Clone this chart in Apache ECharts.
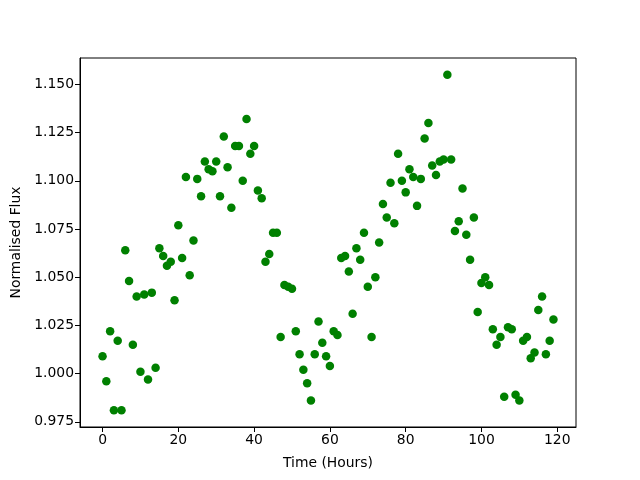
<!DOCTYPE html>
<html>
<head>
<meta charset="utf-8">
<script src="https://cdn.jsdelivr.net/npm/echarts@6/dist/echarts.min.js"></script>
<style>
  html, body { margin: 0; padding: 0; background: #fff; }
  #chart { width: 640px; height: 480px; }
</style>
</head>
<body>
<div id="chart"></div>
<script>
// hourly normalised flux (hour 0..119)
var hours = [];
for (var h = 0; h < 120; h++) hours.push(h);
var flux = [
  1.009, 0.996, 1.022, 0.981, 1.017, 0.981, 1.064, 1.048, 1.015, 1.040,
  1.001, 1.041, 0.997, 1.042, 1.003, 1.065, 1.061, 1.056, 1.058, 1.038,
  1.077, 1.060, 1.102, 1.051, 1.069, 1.101, 1.092, 1.110, 1.106, 1.105,
  1.110, 1.092, 1.123, 1.107, 1.086, 1.118, 1.118, 1.100, 1.132, 1.114,
  1.118, 1.095, 1.091, 1.058, 1.062, 1.073, 1.073, 1.019, 1.046, 1.045,
  1.044, 1.022, 1.010, 1.002, 0.995, 0.986, 1.010, 1.027, 1.016, 1.009,
  1.004, 1.022, 1.020, 1.060, 1.061, 1.053, 1.031, 1.065, 1.059, 1.073,
  1.045, 1.019, 1.050, 1.068, 1.088, 1.081, 1.099, 1.078, 1.114, 1.100,
  1.094, 1.106, 1.102, 1.087, 1.101, 1.122, 1.130, 1.108, 1.103, 1.110,
  1.111, 1.155, 1.111, 1.074, 1.079, 1.096, 1.072, 1.059, 1.081, 1.032,
  1.047, 1.050, 1.046, 1.023, 1.015, 1.019, 0.988, 1.024, 1.023, 0.989,
  0.986, 1.017, 1.019, 1.008, 1.011, 1.033, 1.040, 1.010, 1.017, 1.028
];
var xTicks = [0, 20, 40, 60, 80, 100, 120];
var yTicks = [0.975, 1.000, 1.025, 1.050, 1.075, 1.100, 1.125, 1.150];

var points = hours.map(function (h, i) { return [h, flux[i]]; });

// matplotlib style 5% margins
var xPad = (119 - 0) * 0.05;
var yMin = Math.min.apply(null, flux), yMax = Math.max.apply(null, flux);
var yPad = (yMax - yMin) * 0.05;

var font = 'DejaVu Sans';
var chart = echarts.init(document.getElementById('chart'), null, { renderer: 'canvas' });
chart.setOption({
  animation: false,
  backgroundColor: '#fff',
  grid: {
    left: 80, right: 64, top: 58, bottom: 53,
    show: true, borderColor: '#000', borderWidth: 1, backgroundColor: 'transparent'
  },
  xAxis: {
    type: 'value',
    min: 0 - xPad, max: 119 + xPad,
    name: 'Time (Hours)', nameLocation: 'middle', nameGap: 29,
    nameTextStyle: { fontFamily: font, fontSize: 13.9, color: '#000' },
    axisLine: { show: true, onZero: false, lineStyle: { color: '#000', width: 1 } },
    axisTick: { show: true, length: 5, lineStyle: { color: '#000' }, customValues: xTicks },
    axisLabel: { fontFamily: font, fontSize: 13.9, color: '#000', margin: 6, customValues: xTicks },
    splitLine: { show: false }
  },
  yAxis: {
    type: 'value',
    min: yMin - yPad, max: yMax + yPad,
    name: 'Normalised Flux', nameLocation: 'middle', nameGap: 57, nameRotate: 90,
    nameTextStyle: { fontFamily: font, fontSize: 13.9, color: '#000' },
    axisLine: { show: true, onZero: false, lineStyle: { color: '#000', width: 1 } },
    axisTick: { show: true, length: 5, lineStyle: { color: '#000' }, customValues: yTicks },
    axisLabel: {
      fontFamily: font, fontSize: 13.9, color: '#000', margin: 6, customValues: yTicks,
      formatter: function (v) { return v.toFixed(3); }
    },
    splitLine: { show: false }
  },
  series: [{
    type: 'scatter',
    data: points,
    symbol: 'circle',
    symbolSize: 8.5,
    itemStyle: { color: '#008000', opacity: 1 }
  }]
});
</script>
</body>
</html>
